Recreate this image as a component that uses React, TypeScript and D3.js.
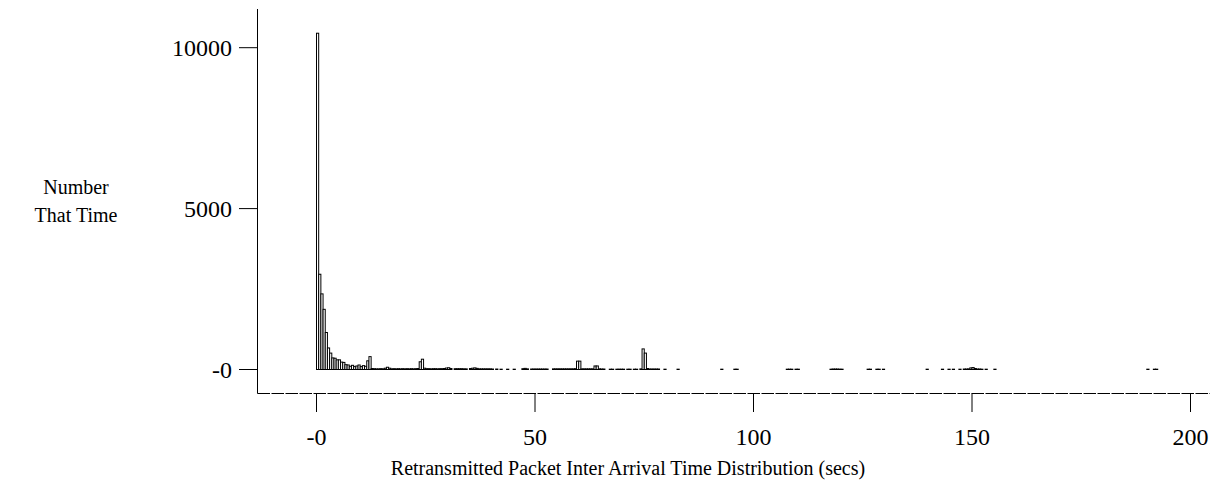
import React from "react";
import * as d3 from "d3";

// Histogram of retransmitted packet inter-arrival times, 0.5 s bins.
// Each entry: [bin start (secs), number of packets in that bin].
const BIN_WIDTH = 0.5;

const earlyBins: [number, number][] = [
  [0, 10450], [0.5, 2960], [1, 2350], [1.5, 1870], [2, 1150], [2.5, 670],
  [3, 510], [3.5, 360], [4, 350], [4.5, 300], [5, 300], [5.5, 230],
  [6, 220], [6.5, 150], [7, 140], [7.5, 100], [8, 130], [8.5, 90],
  [9, 110], [9.5, 140], [10, 90], [10.5, 120], [11, 100], [11.5, 270],
  [12, 400], [12.5, 30], [13, 25], [13.5, 20], [14, 20], [14.5, 25],
  [15, 20], [15.5, 40], [16, 70], [16.5, 40], [17, 20], [17.5, 25],
  [18, 20], [18.5, 25], [19, 20], [19.5, 25], [20, 20], [20.5, 25],
  [21, 20], [21.5, 25], [22, 20], [22.5, 25], [23, 30], [23.5, 240],
  [24, 320], [24.5, 40],
];

const midBins: [number, number][] = [
  [25, 25], [25.5, 25], [26, 20], [26.5, 25], [27, 25], [27.5, 20],
  [28, 25], [28.5, 25], [29, 30], [29.5, 45], [30, 55], [30.5, 30],
  [31.5, 25], [32, 25], [32.5, 25], [33, 25], [33.5, 20], [34, 20],
  [35, 30], [35.5, 40], [36, 50], [36.5, 35], [37, 20], [37.5, 20],
  [38, 20], [38.5, 20], [39, 20], [39.5, 20], [40, 15], [41, 15],
  [42, 10], [43.5, 10], [45, 10], [47, 25], [47.5, 35], [48, 20],
  [49, 15], [49.5, 15], [50, 15], [50.5, 15], [51, 15], [51.5, 15],
  [52, 15], [52.5, 15], [54, 20], [54.5, 20], [55, 20], [55.5, 20],
  [56, 20], [56.5, 20], [57, 20], [57.5, 20], [58, 20], [58.5, 20],
  [59, 25], [59.5, 260], [60, 260], [60.5, 20], [61, 20], [61.5, 20],
  [62, 20], [62.5, 20], [63, 20], [63.5, 110], [64, 110], [64.5, 20],
  [65, 15], [65.5, 15], [67, 10], [67.5, 10], [68.5, 10], [69, 10],
  [69.5, 10], [70, 10], [71, 10], [71.5, 10], [72.5, 10], [73, 10],
  [74, 20], [74.5, 640], [75, 510], [75.5, 30], [76, 15], [76.5, 15],
  [77, 15], [77.5, 15], [78, 15], [79.5, 10], [82.5, 10],
];

const lateBins: [number, number][] = [
  [92.5, 10], [95.5, 10], [96, 10], [107.5, 10], [108, 10], [108.5, 10],
  [109.5, 10], [110, 10], [117.5, 10], [118, 15], [118.5, 15], [119, 15],
  [119.5, 10], [120, 10], [126, 10], [126.5, 10], [128, 10], [128.5, 10],
  [129.5, 10], [139.5, 10], [143, 10], [144.5, 10], [145.5, 10],
  [147, 10], [148, 15], [148.5, 15], [149, 20], [149.5, 50], [150, 60],
  [150.5, 30], [151, 15], [151.5, 15], [152, 10], [153, 10], [155, 10],
  [190, 10], [191.5, 10], [192, 10],
];

const xTickValues = [0, 50, 100, 150, 200];
const xTickLabels = ["-0", "50", "100", "150", "200"];
const yTickValues = [0, 5000, 10000];
const yTickLabels = ["-0", "5000", "10000"];

const xTitle = "Retransmitted Packet Inter Arrival Time Distribution (secs)";
const yTitleLines = ["Number", "That Time"];

const W = 1217;
const H = 487;
const FONT = "'Liberation Serif', 'Times New Roman', Times, serif";

export default function App() {
  const x = d3.scaleLinear().domain([0, 200]).range([316.5, 1190.5]);
  const y = d3.scaleLinear().domain([0, 10000]).range([369.5, 47.7]);

  const axisX = 257.5;
  const axisTop = 9;
  const axisBottomY = 393.5;
  const axisRight = 1210;

  const bins = [...earlyBins, ...midBins, ...lateBins];

  return (
    <svg
      width={W}
      height={H}
      style={{ position: "absolute", left: 0, top: 0, background: "#fff" }}
      fontFamily={FONT}
    >
      {/* bars */}
      <g fill="#fff" stroke="#000" strokeWidth={1}>
        {bins.map(([t, v], i) => {
          const x0 = x(t);
          const x1 = x(t + BIN_WIDTH);
          const y0 = y(v);
          return (
            <rect
              key={i}
              x={x0}
              y={y0}
              width={x1 - x0}
              height={Math.max(0, y(0) - y0)}
            />
          );
        })}
      </g>

      {/* y axis */}
      <line x1={axisX} x2={axisX} y1={axisTop} y2={axisBottomY} stroke="#000" strokeWidth={1} />
      {yTickValues.map((v, i) => (
        <g key={v}>
          <line x1={239} x2={axisX} y1={y(v)} y2={y(v)} stroke="#000" strokeWidth={1} />
          <text
            x={232}
            y={y(v)}
            textAnchor="end"
            dominantBaseline="central"
            fontSize={24}
            fill="#000"
          >
            {yTickLabels[i]}
          </text>
        </g>
      ))}

      {/* x axis */}
      <line
        x1={axisX}
        x2={axisRight}
        y1={axisBottomY}
        y2={axisBottomY}
        stroke="#000"
        strokeWidth={1}
        strokeDasharray="12.5 1.5"
      />
      {xTickValues.map((v, i) => (
        <g key={v}>
          <line x1={x(v)} x2={x(v)} y1={axisBottomY} y2={412} stroke="#000" strokeWidth={1} />
          <text
            x={x(v)}
            y={445}
            textAnchor="middle"
            fontSize={24}
            fill="#000"
          >
            {xTickLabels[i]}
          </text>
        </g>
      ))}

      {/* titles */}
      <text x={628} y={475} textAnchor="middle" fontSize={20} fill="#000">
        {xTitle}
      </text>
      {yTitleLines.map((s, i) => (
        <text key={s} x={76} y={194 + i * 28} textAnchor="middle" fontSize={20} fill="#000">
          {s}
        </text>
      ))}
    </svg>
  );
}
